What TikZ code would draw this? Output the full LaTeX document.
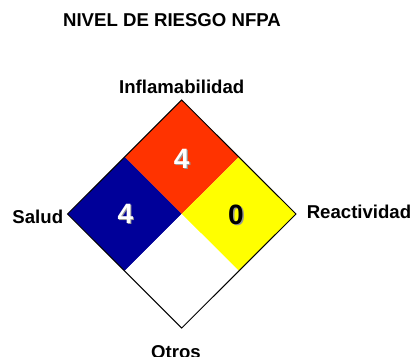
\documentclass[tikz,border=0pt]{standalone}
\usepackage{fontspec}
\setmainfont{Liberation Sans}
\usetikzlibrary{calc}
\definecolor{nfpared}{RGB}{255,51,0}
\definecolor{nfpablue}{RGB}{0,0,153}
\definecolor{nfpayellow}{RGB}{255,255,0}
\definecolor{shade}{RGB}{150,150,150}
\begin{document}
\begin{tikzpicture}[x=1pt,y=-1pt,
  lbl/.style={inner sep=0pt,font=\fontsize{18.6}{20}\selectfont\bfseries},
  num/.style={inner sep=0pt,font=\fontsize{28}{30}\selectfont\bfseries}]
\useasboundingbox (0,0) rectangle (414,356);
% corners
\coordinate (T) at (181.7,100);
\coordinate (L) at (67.5,214);
\coordinate (R) at (296,214);
\coordinate (B) at (181.7,328);
\coordinate (C) at (181.7,214);
\coordinate (TL) at ($(T)!0.5!(L)$);
\coordinate (TR) at ($(T)!0.5!(R)$);
\coordinate (BL) at ($(B)!0.5!(L)$);
\coordinate (BR) at ($(B)!0.5!(R)$);
% quadrants
\fill[nfpared] (T) -- (TR) -- (C) -- (TL) -- cycle;
\fill[nfpablue] (TL) -- (C) -- (BL) -- (L) -- cycle;
\fill[nfpayellow] (TR) -- (R) -- (BR) -- (C) -- cycle;
\fill[white] (C) -- (BR) -- (B) -- (BL) -- cycle;
\draw[line width=1pt] (T) -- (R) -- (B) -- (L) -- cycle;
% numbers
\node[num,text=shade] at (183,160) {4};
\node[num,text=white] (nfl) at (181.7,158.7) {4};
\node[num,text=shade] at (126.5,215.3) {4};
\node[num,text=white] (nsa) at (125.3,214) {4};
\node[num,text=shade] at (237.3,216.3) {0};
\node[num,text=black] (nre) at (236,215) {0};
% labels
\node[lbl] (title) at (172,20.5) {NIVEL DE RIESGO NFPA};
\node[lbl] (infl) at (181.7,87) {Inflamabilidad};
\node[lbl] (salud) at (37.8,217) {Salud};
\node[lbl] (react) at (359,212) {Reactividad};
\node[lbl,anchor=north] (otros) at (176,345.5) {Otros};
\end{tikzpicture}
\end{document}
